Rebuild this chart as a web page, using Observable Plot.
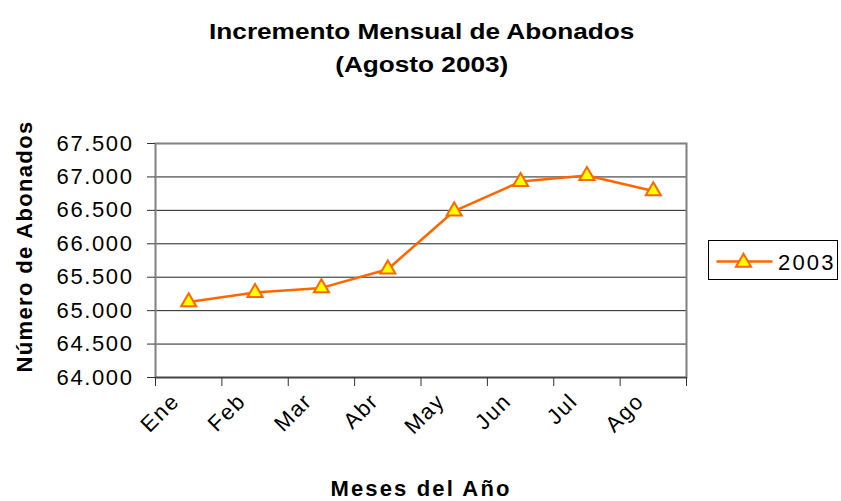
<!DOCTYPE html>
<html><head><meta charset="utf-8">
<script src="https://cdn.jsdelivr.net/npm/d3@7"></script>
<script src="https://cdn.jsdelivr.net/npm/@observablehq/plot@0.6"></script>
<style>
body{margin:0;background:#fff;font-family:"Liberation Sans",Arial,sans-serif;}
#wrap{position:relative;width:841px;height:501px;overflow:hidden;background:#fff;}
#title{position:absolute;left:1px;top:15px;width:841px;text-align:center;font-weight:bold;font-size:22px;line-height:33px;color:#000;}
#title span{display:inline-block;transform:scaleX(1.19);transform-origin:50% 50%;}
#chart{position:absolute;left:0;top:100px;}
#chart svg{letter-spacing:1.6px;}
#chart .ytitle text{letter-spacing:1.35px;}
#chart .xtitle text{letter-spacing:2.15px;}
#legend{position:absolute;left:708px;top:240px;width:130px;height:40px;border:1px solid #000;box-sizing:border-box;background:#fff;}
#legend svg{position:absolute;left:0;top:0;}
</style></head>
<body><div id="wrap"><div id="title"></div><div id="chart"></div><div id="legend"></div></div>
<script>
const titleLines = ["Incremento Mensual de Abonados", "(Agosto 2003)"];
const yTitle = "Número de Abonados";
const xTitle = "Meses del Año";
const months = ["Ene","Feb","Mar","Abr","May","Jun","Jul","Ago"];
const abonados = [65130, 65270, 65340, 65620, 66490, 66930, 67020, 66790];
const seriesName = "2003";
const yTicks = [64000, 64500, 65000, 65500, 66000, 66500, 67000, 67500];

const orange = "#FF6600", yellow = "#FFFF00";
const font = '"Liberation Sans", Arial, sans-serif';

const titleDiv = d3.select("#title");
titleLines.forEach((t, i) => {
  if (i > 0) titleDiv.append("br");
  titleDiv.append("span").text(t);
});

const data = months.map((m, i) => ({mes: m, idx: i + 0.5, valor: abonados[i]}));
const fmt = d3.formatLocale({decimal: ",", thousands: ".", grouping: [3], currency: ["", "€"]}).format(",d");

const plot = Plot.plot({
  width: 841, height: 401,
  marginTop: 43, marginBottom: 124, marginLeft: 155, marginRight: 155,
  style: {fontFamily: font, fontSize: "22px", color: "#000", background: "transparent", overflow: "visible"},
  x: {type: "linear", domain: [0, months.length], axis: null},
  y: {domain: [yTicks[0], yTicks[yTicks.length - 1]], axis: null},
  marks: [
    Plot.ruleY(yTicks.slice(1, -1), {stroke: "#222", strokeWidth: 1}),
    Plot.frame({stroke: "#808080", strokeWidth: 2}),
    Plot.ruleY([yTicks[0]], {stroke: "#444", strokeWidth: 1.5}),
    Plot.axisY({ticks: yTicks, label: null, tickSize: 8, tickPadding: 14, tickFormat: fmt, stroke: "#333", fill: "#000", fontSize: 22}),
    Plot.axisX({ticks: d3.range(0, months.length + 1), label: null, tickSize: 9, tickFormat: () => "", stroke: "#333"}),
    Plot.text(data, {x: "idx", text: "mes", frameAnchor: "bottom", rotate: -45, textAnchor: "end", lineAnchor: "bottom", dx: -8, dy: 25, fontSize: 22, fill: "#000"}),
    Plot.text([yTitle], {text: d => d, frameAnchor: "left", rotate: -90, textAnchor: "middle", lineAnchor: "bottom", dx: -124, dy: -14, fontWeight: "bold", fontSize: 22, fill: "#000", className: "ytitle"}),
    Plot.text([xTitle], {text: d => d, frameAnchor: "bottom", lineAnchor: "bottom", dy: 118, fontWeight: "bold", fontSize: 22, fill: "#000", className: "xtitle"}),
    Plot.line(data, {x: "idx", y: "valor", stroke: orange, strokeWidth: 2.5}),
    Plot.dot(data, {x: "idx", y: "valor", symbol: "triangle", r: 5.6, fill: yellow, stroke: orange, strokeWidth: 2})
  ]
});
document.getElementById("chart").appendChild(plot);

// legend
const lg = d3.select("#legend").append("svg").attr("width", 128).attr("height", 38);
lg.append("line").attr("x1", 7.5).attr("x2", 63.5).attr("y1", 20.5).attr("y2", 20.5)
  .attr("stroke", orange).attr("stroke-width", 2.5);
lg.append("path").attr("d", d3.symbol(d3.symbolTriangle, Math.PI * 5.6 * 5.6)())
  .attr("transform", "translate(34.5,21.5)").attr("fill", yellow).attr("stroke", orange).attr("stroke-width", 2);
lg.append("text").attr("x", 69).attr("y", 29).text(seriesName)
  .attr("font-family", font).attr("font-size", 22).attr("letter-spacing", "2.2px").attr("fill", "#000");
</script>
</body></html>
